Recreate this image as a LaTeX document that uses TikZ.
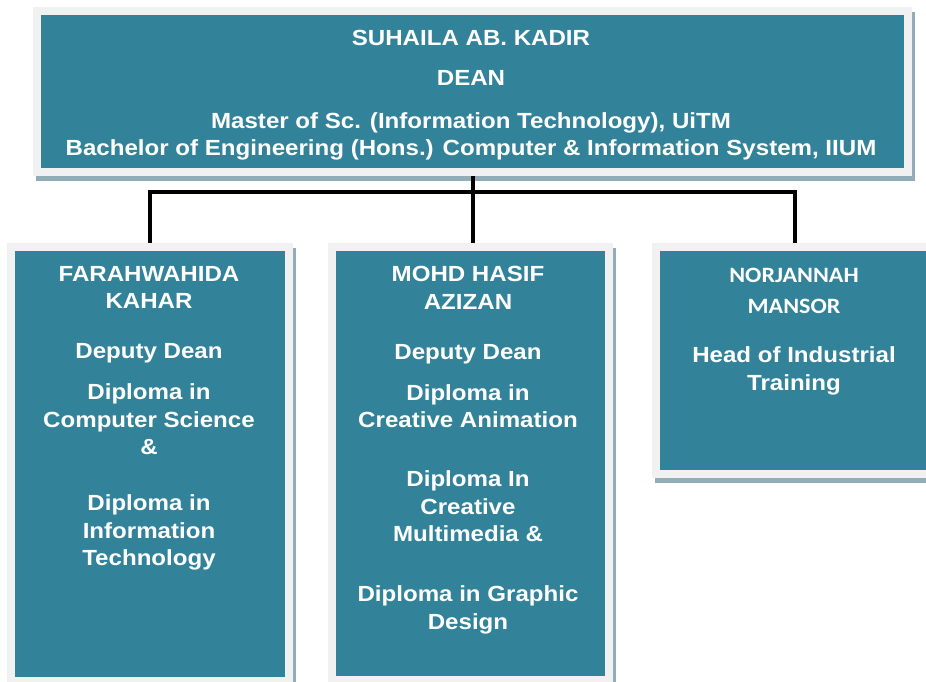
\documentclass[tikz,border=0pt]{standalone}
\usepackage{fontspec}
\setmainfont{Liberation Sans}[FakeStretch=1.1]
\newfontfamily\namefont{Carlito}[FakeStretch=1.1]

\definecolor{unitteal}{HTML}{32839A}
\definecolor{unitrim}{HTML}{F1F1F1}
\definecolor{unitshade}{HTML}{93ADB8}

\begin{document}
\begin{tikzpicture}[x=1pt,y=-1pt]
\tikzstyle{unit}=[fill=unitteal,draw=unitrim,line width=8pt,inner sep=0pt,
  preaction={fill=unitshade,draw=unitshade,line width=8pt,transform canvas={shift={(3pt,-5pt)}}}]
\tikzstyle{unittext}=[text=white,align=center,inner sep=0pt,anchor=north,
  font=\fontsize{21.9}{27.5}\selectfont\bfseries]
\tikzstyle{link}=[draw=black,line width=4pt]
\useasboundingbox (0,0) rectangle (926,681);
% boxes
\node[unit,minimum width=871pt,minimum height=161pt] (dean) at (472.5,91.5) {};
\node[unit,minimum width=278pt,minimum height=434pt] (deputyone) at (150,464) {};
\node[unit,minimum width=277pt,minimum height=433pt] (deputytwo) at (470.5,463.5) {};
\node[unit,minimum width=277pt,minimum height=227pt] (training) at (794.5,360.5) {};
% texts
\node[unittext] (deantext) at (471,30) {SUHAILA AB. KADIR\\[12.5pt]
  DEAN\\[15.5pt]
  Master of Sc. (Information Technology), UiTM\\
  Bachelor of Engineering (Hons.) Computer \& Information System, IIUM};
\node[unittext] (deputyonetext) at (149,266) {FARAHWAHIDA\\ KAHAR\\[22.5pt]
  Deputy Dean\\[13.5pt]
  Diploma in\\ Computer Science\\ \&\\[28.5pt]
  Diploma in\\ Information\\ Technology};
\node[unittext] (deputytwotext) at (468,266) {MOHD HASIF\\ AZIZAN\\[22.5pt]
  Deputy Dean\\[13.5pt]
  Diploma in\\ Creative Animation\\[31.5pt]
  Diploma In\\ Creative\\ Multimedia \&\\[32.5pt]
  Diploma in Graphic\\ Design};
\node[unittext] (trainingtext) at (794,268) {{\namefont NORJANNAH}\\[3pt]
  {\namefont MANSOR}\\[22pt]
  Head of Industrial\\ Training};
% lines
\coordinate (junction) at (472.5,192);
\draw[link] (deputyone.north) |- (junction) -| (training.north);
\draw[link] (dean.south) -- (dean.south |- deputytwo.north);
\end{tikzpicture}
\end{document}
